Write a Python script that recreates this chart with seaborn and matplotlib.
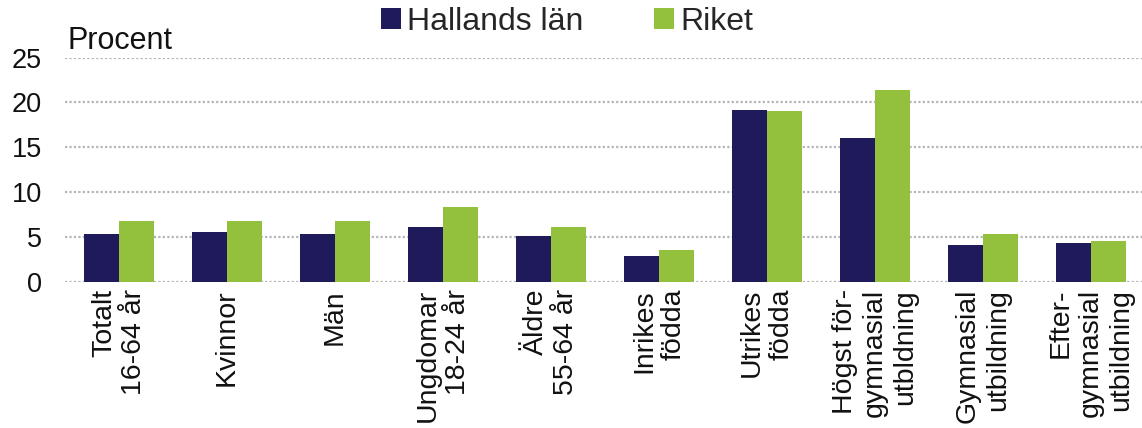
import pandas as pd
import matplotlib.pyplot as plt
import seaborn as sns

# Arbetslöshet per grupp, procent
GRUPPER = [
    "Totalt\n16-64 år",
    "Kvinnor",
    "Män",
    "Ungdomar\n18-24 år",
    "Äldre\n55-64 år",
    "Inrikes\nfödda",
    "Utrikes\nfödda",
    "Högst för-\ngymnasial\nutbldning",
    "Gymnasial\nutbildning",
    "Efter-\ngymnasial\nutbildning",
]
HALLAND = [5.4, 5.6, 5.3, 6.1, 5.1, 2.9, 19.2, 16.0, 4.1, 4.3]
RIKET = [6.8, 6.8, 6.8, 8.3, 6.1, 3.6, 19.0, 21.4, 5.3, 4.6]
SERIER = ["Hallands län", "Riket"]
FARGER = ["#1f1a5a", "#93c13e"]

df = pd.DataFrame(
    {
        "grupp": GRUPPER * 2,
        "procent": HALLAND + RIKET,
        "serie": [SERIER[0]] * len(GRUPPER) + [SERIER[1]] * len(GRUPPER),
    }
)

sns.set_theme(style="white")
plt.rcParams["font.family"] = ["Liberation Sans", "DejaVu Sans"]

fig = plt.figure(figsize=(11.42, 4.28), dpi=100)
ax = fig.add_axes([65 / 1142, 1 - 282 / 428, 1080 / 1142, 224.5 / 428])

sns.barplot(
    data=df,
    x="grupp",
    y="procent",
    hue="serie",
    palette=FARGER,
    width=0.65,
    saturation=1,
    linewidth=0,
    ax=ax,
    legend=True,
)

ax.set_ylim(0, 25)
ax.set_yticks(range(0, 26, 5))
ax.set_xlim(-0.5, len(GRUPPER) - 0.5)
ax.yaxis.grid(True, color="#b5b5b5", linestyle=(0, (1, 1)), linewidth=1.6)
ax.set_axisbelow(True)
sns.despine(ax=ax, left=True, bottom=True, top=True, right=True)
ax.set_xlabel("")
ax.set_ylabel("")
ax.tick_params(axis="y", length=0, pad=16.5, labelsize=19.5, labelcolor="#111111")
ax.tick_params(axis="x", length=0, pad=5, labelsize=20.5, labelcolor="#111111")
for lab in ax.get_xticklabels():
    lab.set_rotation(90)
    lab.set_ha("center")
    lab.set_va("top")
    lab.set_multialignment("right")
    lab.set_linespacing(1.2)

handles, labels = ax.get_legend_handles_labels()
ax.get_legend().remove()
fig.legend(
    handles,
    labels,
    loc="center",
    bbox_to_anchor=(567 / 1142, 1 - 22 / 428),
    ncol=2,
    frameon=False,
    fontsize=23,
    handlelength=0.62,
    handleheight=0.62,
    handletextpad=0.2,
    columnspacing=2.2,
    borderpad=0,
)

fig.text(68 / 1142, 1 - 49 / 428, "Procent", fontsize=22, color="#111111", va="baseline", ha="left")

fig.savefig("out.png", dpi=100)
